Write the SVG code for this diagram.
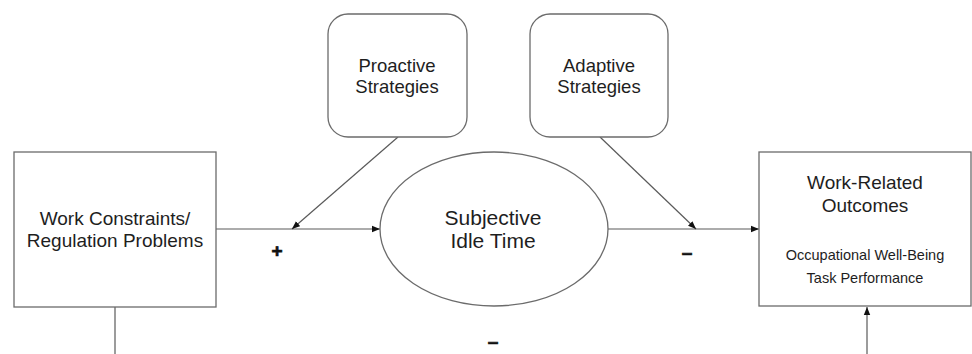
<svg xmlns="http://www.w3.org/2000/svg" width="972" height="354" viewBox="0 0 972 354">
  <style>
    .box { fill: #fff; stroke: #6b6b6b; stroke-width: 1.3; }
    .line { fill: none; stroke: #5a5a5a; stroke-width: 1.2; }
    .t { font-family: "Liberation Sans", Arial, sans-serif; fill: #1e1e1e; text-anchor: middle; }
    .sign { font-family: "Liberation Sans", Arial, sans-serif; fill: #111; stroke: #111; stroke-width: 0.7; text-anchor: middle; font-weight: bold; font-size: 19px; }
  </style>
  <defs>
    <marker id="arr" viewBox="0 0 10 10" refX="10" refY="5" markerWidth="8" markerHeight="8" markerUnits="userSpaceOnUse" orient="auto">
      <path d="M0,1 L10,5 L0,9 z" fill="#111"/>
    </marker>
  </defs>
  <rect width="972" height="354" fill="#fff"/>

  <g id="connectors">
    <line class="line" x1="216" y1="229" x2="380" y2="229" marker-end="url(#arr)"/>
    <line class="line" x1="398" y1="137" x2="292" y2="229" marker-end="url(#arr)"/>
    <line class="line" x1="608" y1="229" x2="759" y2="229" marker-end="url(#arr)"/>
    <line class="line" x1="600" y1="137" x2="696" y2="229" marker-end="url(#arr)"/>
    <line class="line" x1="115" y1="307" x2="115" y2="354"/>
    <line class="line" x1="867" y1="354" x2="867" y2="307" marker-end="url(#arr)"/>
    <text class="sign" x="277" y="257">+</text>
    <text class="sign" x="687" y="259">–</text>
    <text class="sign" x="493" y="348">–</text>
  </g>

  <g id="work-constraints">
    <rect class="box" x="14" y="152" width="202" height="155"/>
    <text class="t" x="115" y="225" font-size="19">Work Constraints/</text>
    <text class="t" x="115" y="247" font-size="19">Regulation Problems</text>
  </g>

  <g id="proactive">
    <rect class="box" x="328" y="14" width="139" height="123" rx="20"/>
    <text class="t" x="397" y="72" font-size="18.5">Proactive</text>
    <text class="t" x="397" y="93" font-size="18.5">Strategies</text>
  </g>

  <g id="adaptive">
    <rect class="box" x="530" y="14" width="138" height="123" rx="20"/>
    <text class="t" x="599" y="72" font-size="18.5">Adaptive</text>
    <text class="t" x="599" y="93" font-size="18.5">Strategies</text>
  </g>

  <g id="idle-time">
    <ellipse class="box" cx="494" cy="229" rx="114" ry="77"/>
    <text class="t" x="493" y="225" font-size="21">Subjective</text>
    <text class="t" x="493" y="248" font-size="21">Idle Time</text>
  </g>

  <g id="outcomes">
    <rect class="box" x="759" y="152" width="212" height="154"/>
    <text class="t" x="865" y="189" font-size="19">Work-Related</text>
    <text class="t" x="865" y="212" font-size="19">Outcomes</text>
    <text class="t" x="865" y="260" font-size="14.5">Occupational Well-Being</text>
    <text class="t" x="865" y="283" font-size="14.5">Task Performance</text>
  </g>
</svg>
